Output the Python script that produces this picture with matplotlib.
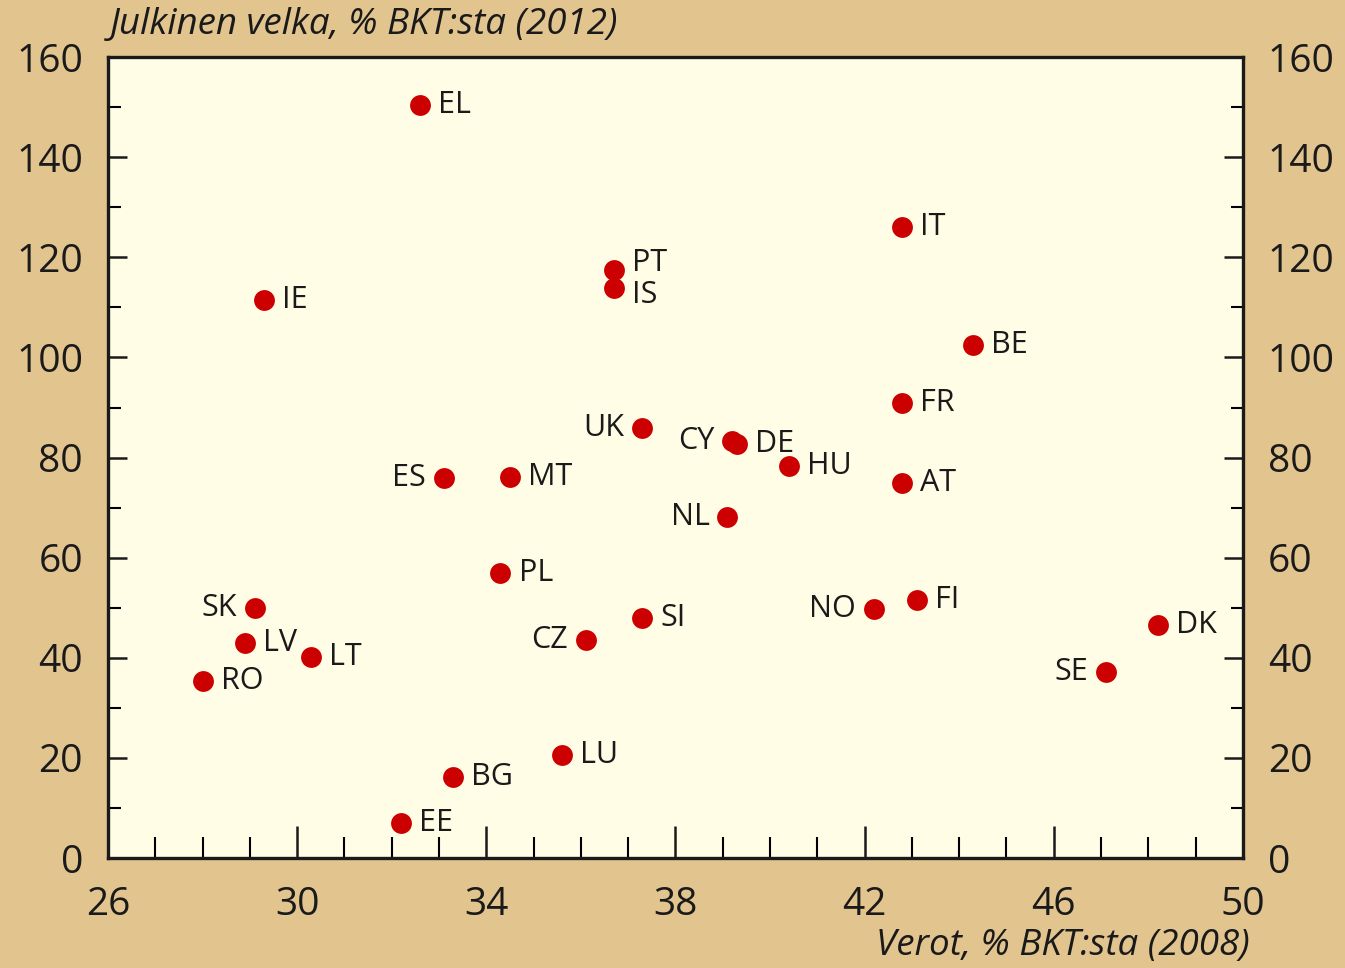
"""Verot vs. julkinen velka, EU-maat + NO, IS."""

import matplotlib
matplotlib.use("Agg")
import matplotlib.pyplot as plt
from matplotlib.ticker import FixedLocator, MultipleLocator

# Maat ja arvot (luettu kuvasta)
maat = ["EL", "IE", "PT", "IS", "IT", "BE", "FR", "UK", "CY", "DE",
        "HU", "ES", "MT", "AT", "NL", "PL", "SK", "FI", "NO", "SI",
        "DK", "LV", "CZ", "LT", "SE", "RO", "LU", "BG", "EE"]
verot = [32.6, 29.3, 36.7, 36.7, 42.8, 44.3, 42.8, 37.3, 39.2, 39.3,
         40.4, 33.1, 34.5, 42.8, 39.1, 34.3, 29.1, 43.1, 42.2, 37.3,
         48.2, 28.9, 36.1, 30.3, 47.1, 28.0, 35.6, 33.3, 32.2]
velka = [150.4, 111.5, 117.5, 113.9, 126.0, 102.5, 90.9, 85.9, 83.3, 82.7,
         78.3, 75.9, 76.1, 74.9, 68.1, 56.9, 49.9, 51.5, 49.7, 47.9,
         46.5, 42.9, 43.5, 40.2, 37.2, 35.4, 20.6, 16.2, 7.0]

x_ticks = [26, 30, 34, 38, 42, 46, 50]

# nämä nimet piirretään pisteen vasemmalle puolelle
vasemmalle = {"UK", "CY", "ES", "NL", "SK", "NO", "CZ", "SE"}
# PT ja IS ovat päällekkäin, siirretään hieman ylös/alas
nosto = {"PT": 5, "IS": -5}

tausta = "#e2c48f"
pohja = "#fffde6"
puna = "#cc0000"
teksti = "#1a1a1a"

plt.rcParams["font.family"] = ["Open Sans", "DejaVu Sans"]

fig = plt.figure(figsize=(13.45, 9.68), dpi=100, facecolor=tausta)
ax = fig.add_axes([0.0803, 0.1136, 0.8438, 0.8274])
ax.set_facecolor(pohja)

ax.scatter(verot, velka, s=225, color=puna, zorder=3, linewidths=0)

for maa, x, y in zip(maat, verot, velka):
    dy = nosto.get(maa, 0)
    if maa in vasemmalle:
        ax.annotate(maa, (x, y), xytext=(-13, dy), textcoords="offset points",
                    ha="right", va="center", fontsize=22, color=teksti)
    else:
        ax.annotate(maa, (x, y), xytext=(13, dy), textcoords="offset points",
                    ha="left", va="center", fontsize=22, color=teksti)

ax.set_xlim(26, 50)
ax.set_ylim(0, 160)
ax.xaxis.set_major_locator(FixedLocator(x_ticks))
ax.xaxis.set_minor_locator(MultipleLocator(1))
ax.yaxis.set_major_locator(MultipleLocator(20))
ax.yaxis.set_minor_locator(MultipleLocator(10))

for s in ax.spines.values():
    s.set_linewidth(2.4)
    s.set_color(teksti)

ax.tick_params(axis="x", which="major", direction="in", length=23, width=1.8,
               labelsize=28, pad=20, colors=teksti, top=False)
ax.tick_params(axis="x", which="minor", direction="in", length=15, width=1.5,
               top=False)
ax.tick_params(axis="y", which="major", direction="in", length=14, width=1.8,
               labelsize=28, pad=18, colors=teksti, right=True, labelright=True)
ax.tick_params(axis="y", which="minor", direction="in", length=9, width=1.5,
               right=True)

fig.text(110 / 1345, 1 - 25 / 968, "Julkinen velka, % BKT:sta (2012)",
         fontsize=26.5, style="italic", color=teksti, ha="left", va="center")
fig.text(1250 / 1345, 1 - 946 / 968, "Verot, % BKT:sta (2008)",
         fontsize=26.5, style="italic", color=teksti, ha="right", va="center")

fig.savefig("out.png", dpi=100, facecolor=tausta)
